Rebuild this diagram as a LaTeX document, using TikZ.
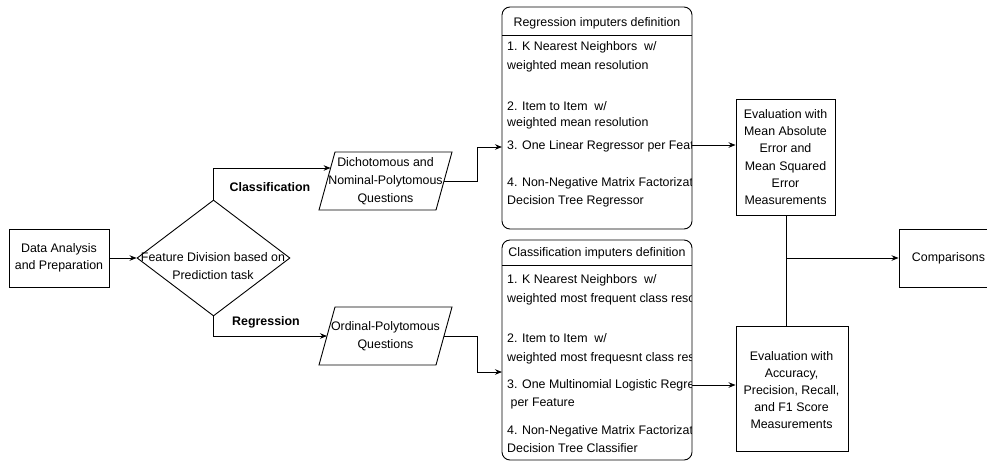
\documentclass[tikz,border=0pt]{standalone}
\usepackage{fontspec}
\setmainfont{Liberation Sans}
\usetikzlibrary{arrows.meta,shapes.geometric}
\begin{document}
\begin{tikzpicture}[x=1pt,y=-1pt,
  every node/.style={font=\fontsize{12.4}{17.2}\selectfont, inner sep=0pt},
  ln/.style={line width=0.9pt},
  arr/.style={ln,-{Stealth[length=7pt,width=5.5pt]}},
  boxx/.style={draw,ln,rectangle},
  txt/.style={align=center},
  item/.style={anchor=base west}]
\useasboundingbox (0,0) rectangle (987,461);
\clip (0,0) rectangle (987,461);

% Data analysis
\node[boxx, minimum width=100pt, minimum height=58pt, txt] (data) at (59,258) {Data Analysis\\and Preparation};

% Diamond
\node[draw, ln, diamond, minimum width=153pt, minimum height=116pt, inner sep=0pt] (dia) at (213.5,258) {};
\node[txt] (diatext) at (213,266) {Feature Division based on\\Prediction task};
\draw[arr] (data.east) -- (dia.west);

% Parallelograms
\draw[ln] (335,152) -- (452,152) -- (436,210) -- (319,210) -- cycle;
\node[txt, font=\fontsize{12.4}{18}\selectfont] (p1) at (385.5,181) {Dichotomous and\\Nominal-Polytomous\\Questions};
\coordinate (p1in) at (330.6,168);
\coordinate (p1out) at (444,181);

\draw[ln] (335,307) -- (452,307) -- (436,365) -- (319,365) -- cycle;
\node[txt, font=\fontsize{12.4}{18}\selectfont] (p2) at (385.5,336) {Ordinal-Polytomous\\Questions};
\coordinate (p2in) at (327,336);
\coordinate (p2out) at (444,336);

% Branches
\draw[arr] (dia.north) |- (p1in);
\draw[arr] (dia.south) |- (p2in);
\node[font=\fontsize{12.4}{17.2}\bfseries] (lcls) at (270,187) {Classification};
\node[font=\fontsize{12.4}{17.2}\bfseries] (lreg) at (266,322) {Regression};

% Regression imputers box
\draw[ln, rounded corners=8pt] (502,7) rectangle (692,229);
\draw[ln] (502,35) -- (692,35);
\coordinate (regin) at (502,147);
\coordinate (regout) at (692,145);
\node (reghead) at (597,23) {Regression imputers definition};
\begin{scope}
\clip (502,36) rectangle (691,228);
\node[item] (r1) at (507,50.5) {1. K Nearest Neighbors\ \ w/};
\node[item] (r1b) at (507,69.5) {weighted mean resolution};
\node[item] (r2) at (507,110.5) {2. Item to Item\ \ w/};
\node[item] (r2b) at (507,126.5) {weighted mean resolution};
\node[item] (r3) at (507,149.5) {3. One Linear Regressor per Feature};
\node[item] (r4) at (507,186.5) {4. Non-Negative Matrix Factorization};
\node[item] (r4b) at (507,204.5) {Decision Tree Regressor};
\end{scope}

% Classification imputers box
\draw[ln, rounded corners=8pt] (502,240) rectangle (692,460);
\draw[ln] (502,265) -- (692,265);
\coordinate (clsin) at (502,372);
\coordinate (clsout) at (692,385);
\node (clshead) at (597,253.5) {Classification imputers definition};
\begin{scope}
\clip (502,266) rectangle (691,459);
\node[item] (c1) at (507,283.5) {1. K Nearest Neighbors\ \ w/};
\node[item] (c1b) at (507,302.5) {weighted most frequent class resolution};
\node[item] (c2) at (507,342.5) {2. Item to Item\ \ w/};
\node[item] (c2b) at (507,361.5) {weighted most frequesnt class resolution};
\node[item] (c3) at (507,388.5) {3. One Multinomial Logistic Regressor};
\node[item] (c3b) at (507,406.5) {\ per Feature};
\node[item] (c4) at (507,434.5) {4. Non-Negative Matrix Factorization};
\node[item] (c4b) at (507,452.5) {Decision Tree Classifier};
\end{scope}

\draw[arr] (p1out) -- (477,181) |- (regin);
\draw[arr] (p2out) -- (477,336) |- (clsin);

% Evaluation boxes
\node[boxx, minimum width=99pt, minimum height=116pt, txt] (ev1) at (785.5,157) {Evaluation with\\Mean Absolute\\Error and\\Mean Squared\\Error\\Measurements};
\node[boxx, minimum width=112pt, minimum height=125pt] (ev2) at (792,388.5) {};
\node[txt] (ev2t) at (791.5,390) {Evaluation with\\Accuracy,\\Precision, Recall,\\and F1 Score\\Measurements};

\draw[arr] (regout) -- (regout -| ev1.west);
\draw[arr] (clsout) -- (clsout -| ev2.west);

% Comparisons
\node[boxx, minimum width=98pt, minimum height=58pt] (cmp) at (948,258) {};
\node (cmpt) at (948.5,258) {Comparisons};

\coordinate (jn) at (786,258);
\draw[ln] (786,215) -- (786,326);
\draw[arr] (jn) -- (cmp.west);
\end{tikzpicture}
\end{document}
